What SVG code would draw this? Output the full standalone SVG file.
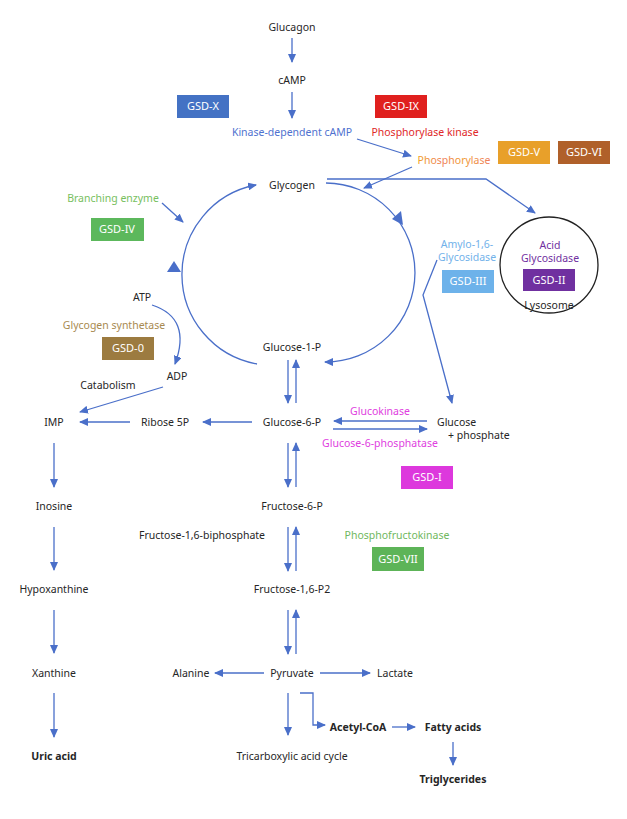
<svg xmlns="http://www.w3.org/2000/svg" width="627" height="819" viewBox="0 0 627 819">
<style>
text{font-family:"Noto Sans","Open Sans",sans-serif;font-size:10.5px;fill:#262626;text-anchor:middle}
.b{font-weight:bold}
.bx text{fill:#fff;font-size:11px}
.c{fill:none;stroke:#4A6FC9;stroke-width:1.3}
.a{marker-end:url(#ah)}
</style>
<defs>
<marker id="ah" markerUnits="userSpaceOnUse" markerWidth="9" markerHeight="8" refX="8" refY="4" orient="auto"><path d="M0,0 L9,4 L0,8 Z" fill="#4A6FC9"/></marker>
<linearGradient id="pg" x1="0" y1="0" x2="1" y2="0">
<stop offset="0" stop-color="#F0A028"/><stop offset="0.35" stop-color="#EE7F5A"/><stop offset="0.6" stop-color="#F09A30"/><stop offset="1" stop-color="#EE8060"/>
</linearGradient>
</defs>
<rect width="627" height="819" fill="#fff"/>
<g id="connectors">
<path class="c a" d="M292,38 V62"/>
<path class="c a" d="M292,92 V118"/>
<path class="c a" d="M357,139 L411,156"/>
<path class="c a" d="M412,167 L364,188"/>
<path class="c a" d="M327,179 H486 L535,213"/>
<path class="c a" d="M257,364 A91 91 0 0 1 256,185"/>
<path class="c a" d="M326,183 A89 89 0 0 1 325,362"/>
<polygon points="174,261 167,272 181,272" fill="#4A6FC9"/>
<polygon points="392,219 401,211 403,225" fill="#4A6FC9"/>
<path class="c a" d="M437,260 L423,295 L452,403"/>
<path class="c a" d="M162,203 L183,222"/>
<path class="c a" d="M152,305 Q192,318 175,364"/>
<path class="c a" d="M163,387 L80,412"/>
<path class="c a" d="M130,422 H80"/>
<path class="c a" d="M252,422 H203"/>
<path class="c a" d="M288,360 V403"/>
<path class="c a" d="M296,403 V360"/>
<path class="c a" d="M427,421 H334"/>
<path class="c a" d="M333,429 H427"/>
<path class="c a" d="M288,443 V487"/>
<path class="c a" d="M296,487 V443"/>
<path class="c a" d="M288,527 V571"/>
<path class="c a" d="M296,571 V527"/>
<path class="c a" d="M288,610 V654"/>
<path class="c a" d="M296,654 V610"/>
<path class="c a" d="M264,673 H215"/>
<path class="c a" d="M320,673 H370"/>
<path class="c a" d="M288,693 V735"/>
<path class="c a" d="M300,693 H313 V725 H325"/>
<path class="c a" d="M392,727 H415"/>
<path class="c a" d="M453,742 V765"/>
<path class="c a" d="M54,443 V487"/>
<path class="c a" d="M54,527 V570"/>
<path class="c a" d="M54,610 V653"/>
<path class="c a" d="M54,693 V737"/>
</g>
<g id="glucagon"><text x="292" y="31">Glucagon</text></g>
<g id="camp"><text x="292" y="84">cAMP</text></g>
<g id="kinase-camp"><text x="292" y="136" style="fill:#4F72CF">Kinase-dependent cAMP</text></g>
<g id="gsd-x" class="bx"><rect x="177" y="95" width="52" height="23" fill="#4472C4"/><text x="203" y="110">GSD-X</text></g>
<g id="gsd-ix" class="bx"><rect x="375" y="95" width="52" height="23" fill="#E0201E"/><text x="401" y="110">GSD-IX</text></g>
<g id="phk"><text x="425" y="136" style="fill:#E02828">Phosphorylase kinase</text></g>
<g id="phosphorylase"><text x="454" y="164" style="fill:url(#pg)">Phosphorylase</text></g>
<g id="gsd-v" class="bx"><rect x="498" y="141" width="52" height="23" fill="#E8A02A"/><text x="524" y="156">GSD-V</text></g>
<g id="gsd-vi" class="bx"><rect x="558" y="141" width="52" height="23" fill="#B0602A"/><text x="584" y="156">GSD-VI</text></g>
<g id="glycogen"><text x="292" y="189">Glycogen</text></g>
<g id="lysosome">
<ellipse cx="549" cy="265" rx="49" ry="48" fill="none" stroke="#222" stroke-width="1.3"/>
<text x="550" y="249" style="fill:#7030A0">Acid</text>
<text x="550" y="262" style="fill:#7030A0">Glycosidase</text>
<text x="549" y="309">Lysosome</text>
</g>
<g id="gsd-ii" class="bx"><rect x="523" y="269" width="52" height="22" fill="#7030A0"/><text x="549" y="284">GSD-II</text></g>
<g id="amylo"><text x="467" y="248" style="fill:#72B2EA">Amylo-1,6-</text><text x="467" y="261" style="fill:#72B2EA">Glycosidase</text></g>
<g id="gsd-iii" class="bx"><rect x="442" y="270" width="52" height="23" fill="#6DB2EA"/><text x="468" y="285">GSD-III</text></g>
<g id="branching"><text x="113" y="202" style="fill:#77C060">Branching enzyme</text></g>
<g id="gsd-iv" class="bx"><rect x="91" y="218" width="53" height="23" fill="#5CB85C"/><text x="117" y="233">GSD-IV</text></g>
<g id="atp"><text x="142" y="301">ATP</text></g>
<g id="synthetase"><text x="114" y="329" style="fill:#A88A50">Glycogen synthetase</text></g>
<g id="gsd-0" class="bx"><rect x="102" y="337" width="52" height="23" fill="#9C7B40"/><text x="128" y="352">GSD-0</text></g>
<g id="adp"><text x="177" y="380">ADP</text></g>
<g id="catabolism"><text x="108" y="389">Catabolism</text></g>
<g id="g1p"><text x="292" y="351">Glucose-1-P</text></g>
<g id="imp"><text x="54" y="426">IMP</text></g>
<g id="ribose"><text x="165" y="426">Ribose 5P</text></g>
<g id="g6p"><text x="292" y="426">Glucose-6-P</text></g>
<g id="glucokinase"><text x="380" y="415" style="fill:#E040E0">Glucokinase</text></g>
<g id="g6pase"><text x="380" y="447" style="fill:#E040E0">Glucose-6-phosphatase</text></g>
<g id="glucose"><text x="437" y="426" style="text-anchor:start">Glucose</text><text x="448" y="439" style="text-anchor:start">+ phosphate</text></g>
<g id="gsd-i" class="bx"><rect x="401" y="466" width="52" height="23" fill="#DD38DD"/><text x="427" y="481">GSD-I</text></g>
<g id="f6p"><text x="292" y="510">Fructose-6-P</text></g>
<g id="fbp"><text x="202" y="539">Fructose-1,6-biphosphate</text></g>
<g id="pfk"><text x="397" y="539" style="fill:#70B860">Phosphofructokinase</text></g>
<g id="gsd-vii" class="bx"><rect x="372" y="547" width="52" height="24" fill="#5DB458"/><text x="398" y="563">GSD-VII</text></g>
<g id="f16p2"><text x="292" y="593">Fructose-1,6-P2</text></g>
<g id="pyruvate"><text x="292" y="677">Pyruvate</text></g>
<g id="alanine"><text x="191" y="677">Alanine</text></g>
<g id="lactate"><text x="395" y="677">Lactate</text></g>
<g id="tca"><text x="292" y="760">Tricarboxylic acid cycle</text></g>
<g id="acetyl"><text x="358" y="731" class="b">Acetyl-CoA</text></g>
<g id="fatty"><text x="453" y="731" class="b">Fatty acids</text></g>
<g id="tg"><text x="453" y="783" class="b">Triglycerides</text></g>
<g id="inosine"><text x="54" y="510">Inosine</text></g>
<g id="hypox"><text x="54" y="593">Hypoxanthine</text></g>
<g id="xanthine"><text x="54" y="677">Xanthine</text></g>
<g id="uric"><text x="54" y="760" class="b">Uric acid</text></g>
</svg>
